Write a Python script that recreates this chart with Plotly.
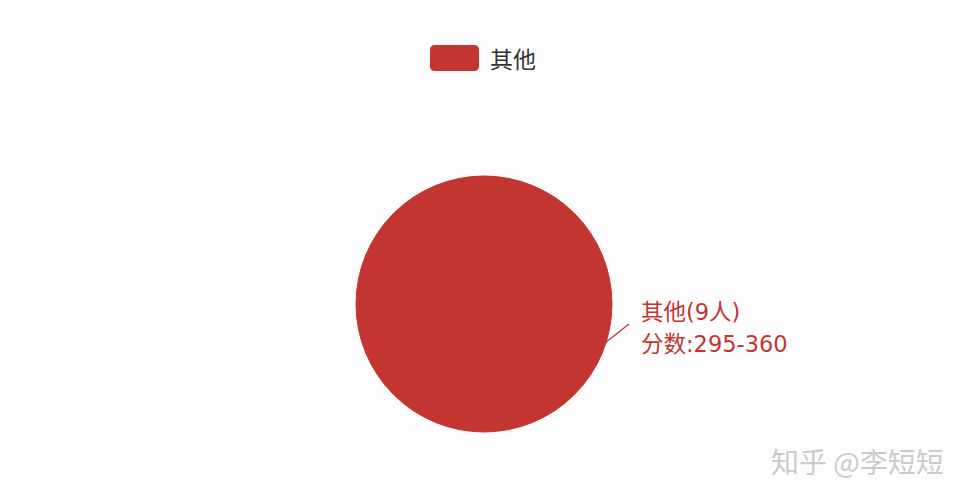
import plotly.graph_objects as go

categories = ['其他']
counts = [9]
score_ranges = ['295-360']
colors = ['#c23531']

W, H = 968, 504
OFF = 8  # page body margin pushes the figure 8px right and down


def px(x):
    return (x - OFF) / W


def py(y):
    return 1 - (y - OFF) / H


fig = go.Figure()
fig.add_trace(go.Pie(
    labels=categories,
    values=counts,
    marker=dict(colors=colors, line=dict(color='#c23531', width=1)),
    textinfo='none',
    hoverinfo='label+value',
    sort=False,
    showlegend=False,
    domain=dict(x=[px(356), px(612)], y=[py(432), py(176)]),
))

# outside label with a short leader line
line1 = [f'{c}({n}人)' for c, n in zip(categories, counts)]
line2 = [f'分数:{r}' for r in score_ranges]
lab_font = dict(size=22.5, color='#c23531', family='DejaVu Sans, Noto Sans CJK SC, sans-serif')
fig.add_shape(type='line', xref='paper', yref='paper',
              x0=px(605), y0=py(343), x1=px(629), y1=py(324),
              line=dict(color='#c23531', width=1.2))
fig.add_annotation(text=line1[0], xref='paper', yref='paper',
                   x=px(639), y=py(312), xanchor='left', yanchor='middle',
                   showarrow=False, font=lab_font)
fig.add_annotation(text=line2[0], xref='paper', yref='paper',
                   x=px(639), y=py(344), xanchor='left', yanchor='middle',
                   showarrow=False, font=lab_font)

# legend drawn by hand: rounded swatch + text
x0, x1, y0, y1, r = px(430), px(479), py(71), py(45), 5
rx, ry = r / W, r / H
path = (f'M {x0+rx},{y0} L {x1-rx},{y0} Q {x1},{y0} {x1},{y0+ry} '
        f'L {x1},{y1-ry} Q {x1},{y1} {x1-rx},{y1} L {x0+rx},{y1} '
        f'Q {x0},{y1} {x0},{y1-ry} L {x0},{y0+ry} Q {x0},{y0} {x0+rx},{y0} Z')
fig.add_shape(type='path', xref='paper', yref='paper', path=path,
              fillcolor=colors[0], line=dict(width=0))
fig.add_annotation(text=categories[0], xref='paper', yref='paper',
                   x=px(488), y=py(58), xanchor='left', yanchor='middle',
                   showarrow=False, font=dict(size=23, color='#333333'))

# watermark
fig.add_annotation(text='知乎 @李短短', xref='paper', yref='paper',
                   x=px(946), y=py(461), xanchor='right', yanchor='middle',
                   showarrow=False, font=dict(size=28, color='#cccccc'))

fig.update_layout(
    width=W, height=H,
    margin=dict(l=0, r=0, t=0, b=0),
    paper_bgcolor='#fefdfe',
    font=dict(family='Noto Sans CJK SC, sans-serif'),
)
fig.write_html('out.html')
